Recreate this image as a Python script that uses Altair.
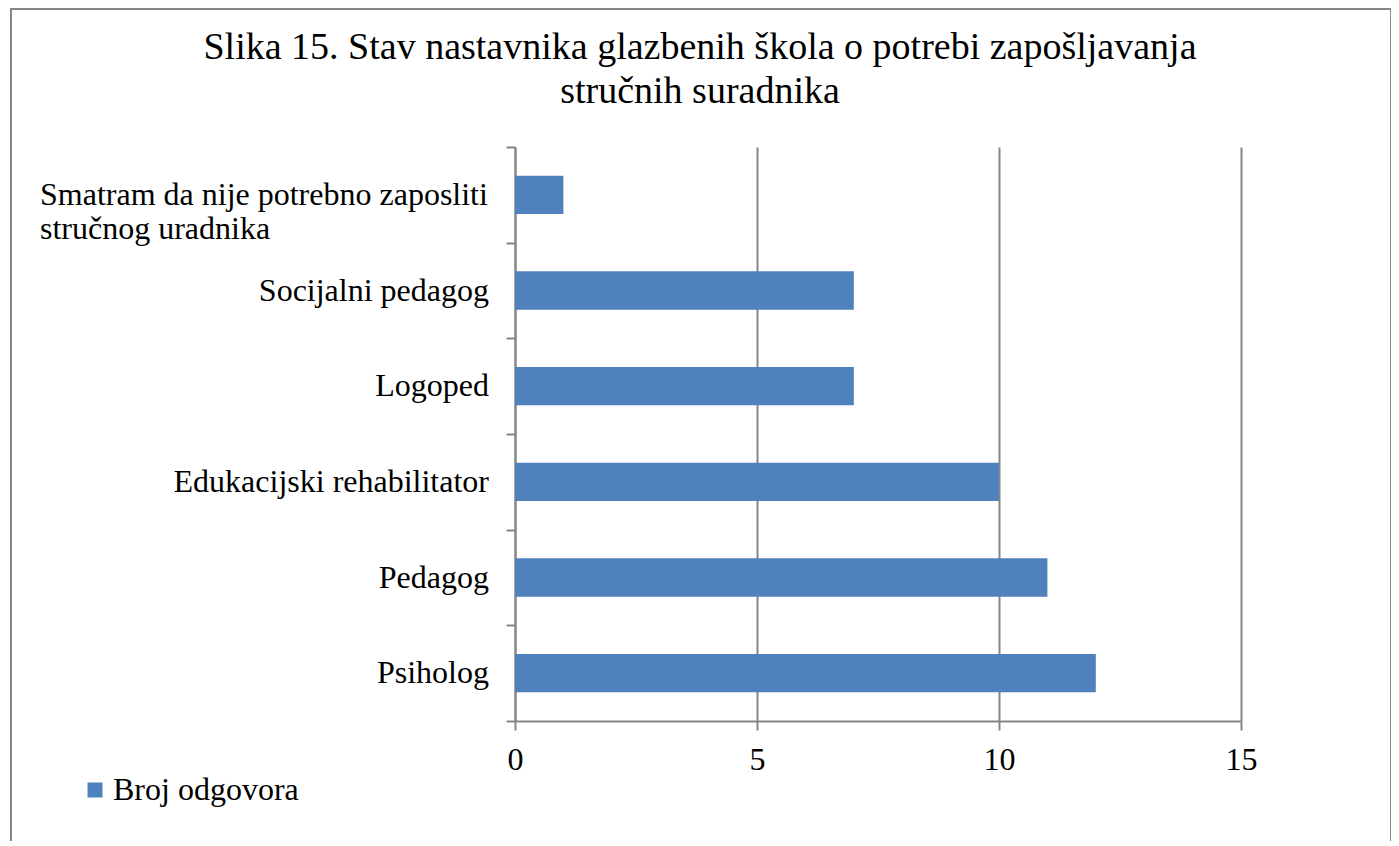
import altair as alt
import pandas as pd

categories = [
    "Smatram da nije potrebno zaposliti\nstručnog uradnika",
    "Socijalni pedagog",
    "Logoped",
    "Edukacijski rehabilitator",
    "Pedagog",
    "Psiholog",
]
values = [1, 7, 7, 10, 11, 12]
series_name = "Broj odgovora"
x_ticks = [0, 5, 10, 15]
title_line1 = "Slika 15. Stav nastavnika glazbenih škola o potrebi zapošljavanja"
title_line2 = "stručnih suradnika"

df = pd.DataFrame({"kategorija": categories, "vrijednost": values, "serija": series_name})
one = pd.DataFrame({"b": [0]})

FONT = "Liberation Serif"
GRAY = "#868686"
BLUE = "#4F81BD"
FS = 32

W, H = 726, 574
PAD = {"left": 507, "top": 139, "right": 150, "bottom": 120}

y_enc = alt.Y(
    "kategorija:N",
    sort=categories,
    scale=alt.Scale(paddingInner=0, paddingOuter=0),
    axis=alt.Axis(
        title=None,
        grid=False,
        labels=False,
        tickBand="extent",
        tickSize=9,
        tickColor=GRAY,
        tickWidth=2,
        domainColor=GRAY,
        domainWidth=2,
    ),
)

bars = alt.Chart(df).mark_bar(color=BLUE, height={"band": 0.4}).encode(
    y=y_enc,
    x=alt.X(
        "vrijednost:Q",
        scale=alt.Scale(domain=[0, 15], nice=False),
        axis=alt.Axis(
            title=None,
            values=x_ticks,
            grid=True,
            gridColor=GRAY,
            gridWidth=2,
            tickSize=9,
            tickColor=GRAY,
            tickWidth=2,
            domainColor=GRAY,
            domainWidth=2,
            labelFont=FONT,
            labelFontSize=FS,
            labelColor="black",
            labelBaseline="alphabetic",
            labelPadding=39,
            labelFlush=False,
        ),
    ),
    color=alt.Color(
        "serija:N",
        scale=alt.Scale(range=[BLUE]),
        legend=alt.Legend(
            title=None,
            orient="none",
            legendX=-436,
            legendY=627,
            symbolType="square",
            symbolSize=225,
            symbolStrokeWidth=0,
            labelOffset=2,
            labelFont=FONT,
            labelFontSize=FS,
            labelColor="black",
            labelLimit=400,
        ),
    ),
)

short_labels = alt.Chart(df).transform_filter(
    "indexof(datum.kategorija, '\\n') < 0"
).mark_text(
    align="right", baseline="middle", font=FONT, fontSize=FS, color="black"
).encode(
    y=alt.Y("kategorija:N", sort=categories),
    x=alt.value(-26),
    text="kategorija:N",
)

long_labels = alt.Chart(df).transform_filter(
    "indexof(datum.kategorija, '\\n') >= 0"
).mark_text(
    align="left", baseline="middle", font=FONT, fontSize=FS, color="black",
    lineBreak="\n", lineHeight=34,
).encode(
    y=alt.Y("kategorija:N", sort=categories),
    x=alt.value(-475),
    text="kategorija:N",
)

border = alt.Chart(one).mark_rect(
    fill="white", fillOpacity=0, stroke=GRAY, strokeWidth=2, clip=False
).encode(
    x=alt.value(-504), x2=alt.value(876), y=alt.value(-138), y2=alt.value(760)
)

title1 = alt.Chart(one).mark_text(
    align="center", baseline="alphabetic", font=FONT, fontSize=38, color="black",
    text=title_line1,
).encode(x=alt.value(185), y=alt.value(-88))

title2 = alt.Chart(one).mark_text(
    align="center", baseline="alphabetic", font=FONT, fontSize=38, color="black",
    text=title_line2,
).encode(x=alt.value(185), y=alt.value(-44))

chart = alt.layer(border, bars, short_labels, long_labels, title1, title2).properties(
    width=W,
    height=H,
    padding=PAD,
    autosize=alt.AutoSizeParams(type="none"),
).configure_view(stroke=None)

chart.save("out.html", embed_options={"renderer": "svg", "actions": False})
